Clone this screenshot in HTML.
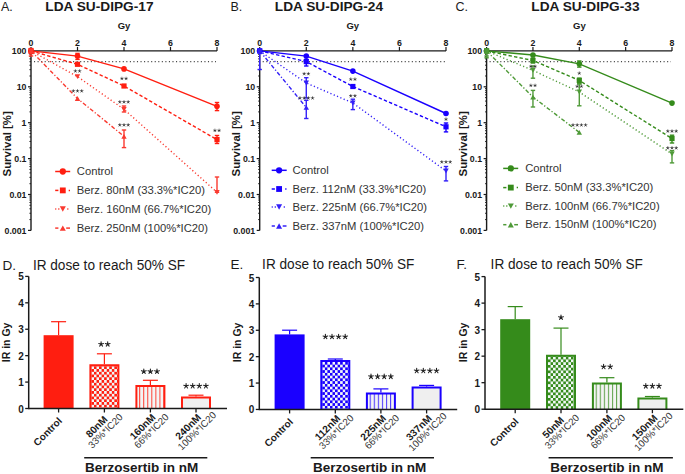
<!DOCTYPE html>
<html><head><meta charset="utf-8"><style>html,body{margin:0;padding:0;background:#fff;}svg{display:block;}</style></head>
<body><svg width="685" height="474" viewBox="0 0 685 474"><defs>
</defs><rect width="685" height="474" fill="#ffffff"/>
<text x="1" y="11.2" font-family="Liberation Sans, sans-serif" font-size="12.5" fill="#1a1a1a">A.</text>
<text x="45.3" y="11.1" font-family="Liberation Sans, sans-serif" font-size="13.7" font-weight="bold" fill="#1a1a1a">LDA SU-DIPG-17</text>
<text x="124" y="28.6" font-family="Liberation Sans, sans-serif" font-size="9.5" font-weight="bold" text-anchor="middle" fill="#1a1a1a">Gy</text>
<line x1="34" y1="61.70697684433692" x2="216" y2="61.70697684433692" stroke="#1a1a1a" stroke-width="1" stroke-dasharray="1.1 2.45"/>
<line x1="31" y1="50.9" x2="217" y2="50.9" stroke="#1a1a1a" stroke-width="1.4"/>
<line x1="31" y1="50.199999999999996" x2="31" y2="230.4" stroke="#1a1a1a" stroke-width="1.4"/>
<line x1="31.0" y1="50.9" x2="31.0" y2="46.9" stroke="#1a1a1a" stroke-width="1.2"/>
<text x="31.0" y="45.8" font-family="Liberation Sans, sans-serif" font-size="8.8" font-weight="bold" text-anchor="middle" fill="#1a1a1a">0</text>
<line x1="77.5" y1="50.9" x2="77.5" y2="46.9" stroke="#1a1a1a" stroke-width="1.2"/>
<text x="77.5" y="45.8" font-family="Liberation Sans, sans-serif" font-size="8.8" font-weight="bold" text-anchor="middle" fill="#1a1a1a">2</text>
<line x1="124.0" y1="50.9" x2="124.0" y2="46.9" stroke="#1a1a1a" stroke-width="1.2"/>
<text x="124.0" y="45.8" font-family="Liberation Sans, sans-serif" font-size="8.8" font-weight="bold" text-anchor="middle" fill="#1a1a1a">4</text>
<line x1="170.5" y1="50.9" x2="170.5" y2="46.9" stroke="#1a1a1a" stroke-width="1.2"/>
<text x="170.5" y="45.8" font-family="Liberation Sans, sans-serif" font-size="8.8" font-weight="bold" text-anchor="middle" fill="#1a1a1a">6</text>
<line x1="217.0" y1="50.9" x2="217.0" y2="46.9" stroke="#1a1a1a" stroke-width="1.2"/>
<text x="217.0" y="45.8" font-family="Liberation Sans, sans-serif" font-size="8.8" font-weight="bold" text-anchor="middle" fill="#1a1a1a">8</text>
<line x1="28" y1="50.9" x2="31" y2="50.9" stroke="#1a1a1a" stroke-width="1.2"/>
<text x="26.5" y="54.0" font-family="Liberation Sans, sans-serif" font-size="8.8" font-weight="bold" text-anchor="end" fill="#1a1a1a">100</text>
<line x1="29.4" y1="75.99" x2="31" y2="75.99" stroke="#1a1a1a" stroke-width="0.9"/>
<line x1="29.4" y1="69.67" x2="31" y2="69.67" stroke="#1a1a1a" stroke-width="0.9"/>
<line x1="29.4" y1="65.19" x2="31" y2="65.19" stroke="#1a1a1a" stroke-width="0.9"/>
<line x1="29.4" y1="61.71" x2="31" y2="61.71" stroke="#1a1a1a" stroke-width="0.9"/>
<line x1="29.4" y1="58.86" x2="31" y2="58.86" stroke="#1a1a1a" stroke-width="0.9"/>
<line x1="29.4" y1="56.46" x2="31" y2="56.46" stroke="#1a1a1a" stroke-width="0.9"/>
<line x1="29.4" y1="54.38" x2="31" y2="54.38" stroke="#1a1a1a" stroke-width="0.9"/>
<line x1="29.4" y1="52.54" x2="31" y2="52.54" stroke="#1a1a1a" stroke-width="0.9"/>
<line x1="28" y1="86.8" x2="31" y2="86.8" stroke="#1a1a1a" stroke-width="1.2"/>
<text x="26.5" y="89.89999999999999" font-family="Liberation Sans, sans-serif" font-size="8.8" font-weight="bold" text-anchor="end" fill="#1a1a1a">10</text>
<line x1="29.4" y1="111.89" x2="31" y2="111.89" stroke="#1a1a1a" stroke-width="0.9"/>
<line x1="29.4" y1="105.57" x2="31" y2="105.57" stroke="#1a1a1a" stroke-width="0.9"/>
<line x1="29.4" y1="101.09" x2="31" y2="101.09" stroke="#1a1a1a" stroke-width="0.9"/>
<line x1="29.4" y1="97.61" x2="31" y2="97.61" stroke="#1a1a1a" stroke-width="0.9"/>
<line x1="29.4" y1="94.76" x2="31" y2="94.76" stroke="#1a1a1a" stroke-width="0.9"/>
<line x1="29.4" y1="92.36" x2="31" y2="92.36" stroke="#1a1a1a" stroke-width="0.9"/>
<line x1="29.4" y1="90.28" x2="31" y2="90.28" stroke="#1a1a1a" stroke-width="0.9"/>
<line x1="29.4" y1="88.44" x2="31" y2="88.44" stroke="#1a1a1a" stroke-width="0.9"/>
<line x1="28" y1="122.69999999999999" x2="31" y2="122.69999999999999" stroke="#1a1a1a" stroke-width="1.2"/>
<text x="26.5" y="125.79999999999998" font-family="Liberation Sans, sans-serif" font-size="8.8" font-weight="bold" text-anchor="end" fill="#1a1a1a">1</text>
<line x1="29.4" y1="147.79" x2="31" y2="147.79" stroke="#1a1a1a" stroke-width="0.9"/>
<line x1="29.4" y1="141.47" x2="31" y2="141.47" stroke="#1a1a1a" stroke-width="0.9"/>
<line x1="29.4" y1="136.99" x2="31" y2="136.99" stroke="#1a1a1a" stroke-width="0.9"/>
<line x1="29.4" y1="133.51" x2="31" y2="133.51" stroke="#1a1a1a" stroke-width="0.9"/>
<line x1="29.4" y1="130.66" x2="31" y2="130.66" stroke="#1a1a1a" stroke-width="0.9"/>
<line x1="29.4" y1="128.26" x2="31" y2="128.26" stroke="#1a1a1a" stroke-width="0.9"/>
<line x1="29.4" y1="126.18" x2="31" y2="126.18" stroke="#1a1a1a" stroke-width="0.9"/>
<line x1="29.4" y1="124.34" x2="31" y2="124.34" stroke="#1a1a1a" stroke-width="0.9"/>
<line x1="28" y1="158.6" x2="31" y2="158.6" stroke="#1a1a1a" stroke-width="1.2"/>
<text x="26.5" y="161.7" font-family="Liberation Sans, sans-serif" font-size="8.8" font-weight="bold" text-anchor="end" fill="#1a1a1a">0.1</text>
<line x1="29.4" y1="183.69" x2="31" y2="183.69" stroke="#1a1a1a" stroke-width="0.9"/>
<line x1="29.4" y1="177.37" x2="31" y2="177.37" stroke="#1a1a1a" stroke-width="0.9"/>
<line x1="29.4" y1="172.89" x2="31" y2="172.89" stroke="#1a1a1a" stroke-width="0.9"/>
<line x1="29.4" y1="169.41" x2="31" y2="169.41" stroke="#1a1a1a" stroke-width="0.9"/>
<line x1="29.4" y1="166.56" x2="31" y2="166.56" stroke="#1a1a1a" stroke-width="0.9"/>
<line x1="29.4" y1="164.16" x2="31" y2="164.16" stroke="#1a1a1a" stroke-width="0.9"/>
<line x1="29.4" y1="162.08" x2="31" y2="162.08" stroke="#1a1a1a" stroke-width="0.9"/>
<line x1="29.4" y1="160.24" x2="31" y2="160.24" stroke="#1a1a1a" stroke-width="0.9"/>
<line x1="28" y1="194.5" x2="31" y2="194.5" stroke="#1a1a1a" stroke-width="1.2"/>
<text x="26.5" y="197.6" font-family="Liberation Sans, sans-serif" font-size="8.8" font-weight="bold" text-anchor="end" fill="#1a1a1a">0.01</text>
<line x1="29.4" y1="219.59" x2="31" y2="219.59" stroke="#1a1a1a" stroke-width="0.9"/>
<line x1="29.4" y1="213.27" x2="31" y2="213.27" stroke="#1a1a1a" stroke-width="0.9"/>
<line x1="29.4" y1="208.79" x2="31" y2="208.79" stroke="#1a1a1a" stroke-width="0.9"/>
<line x1="29.4" y1="205.31" x2="31" y2="205.31" stroke="#1a1a1a" stroke-width="0.9"/>
<line x1="29.4" y1="202.46" x2="31" y2="202.46" stroke="#1a1a1a" stroke-width="0.9"/>
<line x1="29.4" y1="200.06" x2="31" y2="200.06" stroke="#1a1a1a" stroke-width="0.9"/>
<line x1="29.4" y1="197.98" x2="31" y2="197.98" stroke="#1a1a1a" stroke-width="0.9"/>
<line x1="29.4" y1="196.14" x2="31" y2="196.14" stroke="#1a1a1a" stroke-width="0.9"/>
<line x1="28" y1="230.4" x2="31" y2="230.4" stroke="#1a1a1a" stroke-width="1.2"/>
<text x="26.5" y="233.5" font-family="Liberation Sans, sans-serif" font-size="8.8" font-weight="bold" text-anchor="end" fill="#1a1a1a">0.001</text>
<polyline points="31.00,50.90 77.50,56.10 124.00,68.90 217.00,106.30" fill="none" stroke="#ff1e10" stroke-width="1.4" />
<line x1="31.0" y1="48.5" x2="31.0" y2="53.5" stroke="#ff1e10" stroke-width="1.4"/>
<line x1="28.8" y1="48.5" x2="33.2" y2="48.5" stroke="#ff1e10" stroke-width="1.4"/>
<line x1="28.8" y1="53.5" x2="33.2" y2="53.5" stroke="#ff1e10" stroke-width="1.4"/>
<circle cx="31.0" cy="50.9" r="2.8" fill="#ff1e10"/>
<line x1="77.5" y1="53.4" x2="77.5" y2="59.4" stroke="#ff1e10" stroke-width="1.4"/>
<line x1="75.3" y1="53.4" x2="79.7" y2="53.4" stroke="#ff1e10" stroke-width="1.4"/>
<line x1="75.3" y1="59.4" x2="79.7" y2="59.4" stroke="#ff1e10" stroke-width="1.4"/>
<circle cx="77.5" cy="56.1" r="2.8" fill="#ff1e10"/>
<circle cx="124.0" cy="68.9" r="2.8" fill="#ff1e10"/>
<line x1="217.0" y1="102.5" x2="217.0" y2="110.6" stroke="#ff1e10" stroke-width="1.4"/>
<line x1="214.8" y1="102.5" x2="219.2" y2="102.5" stroke="#ff1e10" stroke-width="1.4"/>
<line x1="214.8" y1="110.6" x2="219.2" y2="110.6" stroke="#ff1e10" stroke-width="1.4"/>
<circle cx="217.0" cy="106.3" r="2.8" fill="#ff1e10"/>
<polyline points="31.00,50.90 77.50,64.30 124.00,86.00 217.00,139.60" fill="none" stroke="#ff1e10" stroke-width="1.4" stroke-dasharray="3.4 2.2"/>
<rect x="28.4" y="48.3" width="5.2" height="5.2" fill="#ff1e10"/>
<rect x="74.9" y="61.699999999999996" width="5.2" height="5.2" fill="#ff1e10"/>
<rect x="121.4" y="83.4" width="5.2" height="5.2" fill="#ff1e10"/>
<line x1="217.0" y1="135.5" x2="217.0" y2="143.5" stroke="#ff1e10" stroke-width="1.4"/>
<line x1="214.8" y1="135.5" x2="219.2" y2="135.5" stroke="#ff1e10" stroke-width="1.4"/>
<line x1="214.8" y1="143.5" x2="219.2" y2="143.5" stroke="#ff1e10" stroke-width="1.4"/>
<rect x="214.4" y="137.0" width="5.2" height="5.2" fill="#ff1e10"/>
<polyline points="31.00,50.90 77.50,76.60 124.00,109.30 217.00,192.30" fill="none" stroke="#fa3a30" stroke-width="1.4" stroke-dasharray="1.2 2.4"/>
<polygon points="28.3,48.5 33.7,48.5 31.0,53.3" fill="#fa3a30"/>
<polygon points="74.8,74.19999999999999 80.2,74.19999999999999 77.5,79.0" fill="#fa3a30"/>
<line x1="124.0" y1="106" x2="124.0" y2="112" stroke="#fa3a30" stroke-width="1.4"/>
<line x1="121.8" y1="106" x2="126.2" y2="106" stroke="#fa3a30" stroke-width="1.4"/>
<line x1="121.8" y1="112" x2="126.2" y2="112" stroke="#fa3a30" stroke-width="1.4"/>
<polygon points="121.3,106.89999999999999 126.7,106.89999999999999 124.0,111.7" fill="#fa3a30"/>
<line x1="217.0" y1="177" x2="217.0" y2="192.3" stroke="#fa3a30" stroke-width="1.4"/>
<line x1="214.8" y1="177" x2="219.2" y2="177" stroke="#fa3a30" stroke-width="1.4"/>
<line x1="214.8" y1="192.3" x2="219.2" y2="192.3" stroke="#fa3a30" stroke-width="1.4"/>
<polygon points="214.3,189.9 219.7,189.9 217.0,194.70000000000002" fill="#fa3a30"/>
<polyline points="31.00,50.90 77.50,98.50 124.00,136.30" fill="none" stroke="#fa3a30" stroke-width="1.4" stroke-dasharray="4 2 1.2 2"/>
<line x1="31.0" y1="50.9" x2="31.0" y2="56" stroke="#fa3a30" stroke-width="1.4"/>
<line x1="28.8" y1="50.9" x2="33.2" y2="50.9" stroke="#fa3a30" stroke-width="1.4"/>
<line x1="28.8" y1="56" x2="33.2" y2="56" stroke="#fa3a30" stroke-width="1.4"/>
<polygon points="28.3,53.3 33.7,53.3 31.0,48.5" fill="#fa3a30"/>
<polygon points="74.8,100.9 80.2,100.9 77.5,96.1" fill="#fa3a30"/>
<line x1="124.0" y1="130" x2="124.0" y2="147.6" stroke="#fa3a30" stroke-width="1.4"/>
<line x1="121.8" y1="130" x2="126.2" y2="130" stroke="#fa3a30" stroke-width="1.4"/>
<line x1="121.8" y1="147.6" x2="126.2" y2="147.6" stroke="#fa3a30" stroke-width="1.4"/>
<polygon points="121.3,138.70000000000002 126.7,138.70000000000002 124.0,133.9" fill="#fa3a30"/>
<path d="M75.40,71.10L75.40,69.65M75.40,71.10L76.78,70.65M75.40,71.10L76.25,72.27M75.40,71.10L74.55,72.27M75.40,71.10L74.02,70.65" stroke="#333" stroke-width="0.64" stroke-linecap="round"/><circle cx="75.40" cy="71.10" r="0.58" fill="#333"/><path d="M79.60,71.10L79.60,69.65M79.60,71.10L80.98,70.65M79.60,71.10L80.45,72.27M79.60,71.10L78.75,72.27M79.60,71.10L78.22,70.65" stroke="#333" stroke-width="0.64" stroke-linecap="round"/><circle cx="79.60" cy="71.10" r="0.58" fill="#333"/>
<path d="M73.30,91.00L73.30,89.55M73.30,91.00L74.68,90.55M73.30,91.00L74.15,92.17M73.30,91.00L72.45,92.17M73.30,91.00L71.92,90.55" stroke="#333" stroke-width="0.64" stroke-linecap="round"/><circle cx="73.30" cy="91.00" r="0.58" fill="#333"/><path d="M77.50,91.00L77.50,89.55M77.50,91.00L78.88,90.55M77.50,91.00L78.35,92.17M77.50,91.00L76.65,92.17M77.50,91.00L76.12,90.55" stroke="#333" stroke-width="0.64" stroke-linecap="round"/><circle cx="77.50" cy="91.00" r="0.58" fill="#333"/><path d="M81.70,91.00L81.70,89.55M81.70,91.00L83.08,90.55M81.70,91.00L82.55,92.17M81.70,91.00L80.85,92.17M81.70,91.00L80.32,90.55" stroke="#333" stroke-width="0.64" stroke-linecap="round"/><circle cx="81.70" cy="91.00" r="0.58" fill="#333"/>
<path d="M121.90,78.60L121.90,77.15M121.90,78.60L123.28,78.15M121.90,78.60L122.75,79.77M121.90,78.60L121.05,79.77M121.90,78.60L120.52,78.15" stroke="#333" stroke-width="0.64" stroke-linecap="round"/><circle cx="121.90" cy="78.60" r="0.58" fill="#333"/><path d="M126.10,78.60L126.10,77.15M126.10,78.60L127.48,78.15M126.10,78.60L126.95,79.77M126.10,78.60L125.25,79.77M126.10,78.60L124.72,78.15" stroke="#333" stroke-width="0.64" stroke-linecap="round"/><circle cx="126.10" cy="78.60" r="0.58" fill="#333"/>
<path d="M119.80,102.00L119.80,100.55M119.80,102.00L121.18,101.55M119.80,102.00L120.65,103.17M119.80,102.00L118.95,103.17M119.80,102.00L118.42,101.55" stroke="#333" stroke-width="0.64" stroke-linecap="round"/><circle cx="119.80" cy="102.00" r="0.58" fill="#333"/><path d="M124.00,102.00L124.00,100.55M124.00,102.00L125.38,101.55M124.00,102.00L124.85,103.17M124.00,102.00L123.15,103.17M124.00,102.00L122.62,101.55" stroke="#333" stroke-width="0.64" stroke-linecap="round"/><circle cx="124.00" cy="102.00" r="0.58" fill="#333"/><path d="M128.20,102.00L128.20,100.55M128.20,102.00L129.58,101.55M128.20,102.00L129.05,103.17M128.20,102.00L127.35,103.17M128.20,102.00L126.82,101.55" stroke="#333" stroke-width="0.64" stroke-linecap="round"/><circle cx="128.20" cy="102.00" r="0.58" fill="#333"/>
<path d="M119.80,125.00L119.80,123.55M119.80,125.00L121.18,124.55M119.80,125.00L120.65,126.17M119.80,125.00L118.95,126.17M119.80,125.00L118.42,124.55" stroke="#333" stroke-width="0.64" stroke-linecap="round"/><circle cx="119.80" cy="125.00" r="0.58" fill="#333"/><path d="M124.00,125.00L124.00,123.55M124.00,125.00L125.38,124.55M124.00,125.00L124.85,126.17M124.00,125.00L123.15,126.17M124.00,125.00L122.62,124.55" stroke="#333" stroke-width="0.64" stroke-linecap="round"/><circle cx="124.00" cy="125.00" r="0.58" fill="#333"/><path d="M128.20,125.00L128.20,123.55M128.20,125.00L129.58,124.55M128.20,125.00L129.05,126.17M128.20,125.00L127.35,126.17M128.20,125.00L126.82,124.55" stroke="#333" stroke-width="0.64" stroke-linecap="round"/><circle cx="128.20" cy="125.00" r="0.58" fill="#333"/>
<path d="M214.90,130.50L214.90,129.05M214.90,130.50L216.28,130.05M214.90,130.50L215.75,131.67M214.90,130.50L214.05,131.67M214.90,130.50L213.52,130.05" stroke="#333" stroke-width="0.64" stroke-linecap="round"/><circle cx="214.90" cy="130.50" r="0.58" fill="#333"/><path d="M219.10,130.50L219.10,129.05M219.10,130.50L220.48,130.05M219.10,130.50L219.95,131.67M219.10,130.50L218.25,131.67M219.10,130.50L217.72,130.05" stroke="#333" stroke-width="0.64" stroke-linecap="round"/><circle cx="219.10" cy="130.50" r="0.58" fill="#333"/>
<text transform="translate(11.399999999999999,143.85) rotate(-90)" font-family="Liberation Sans, sans-serif" font-size="11.4" font-weight="bold" text-anchor="middle" fill="#1a1a1a">Survival [%]</text>
<line x1="55.2" y1="171.5" x2="70.2" y2="171.5" stroke="#ff1e10" stroke-width="1.5"/>
<circle cx="62.8" cy="171.5" r="3.136" fill="#ff1e10"/>
<text x="76.8" y="175.0" font-family="Liberation Sans, sans-serif" font-size="11.25" fill="#333333">Control</text>
<line x1="55.2" y1="190.4" x2="58.400000000000006" y2="190.4" stroke="#ff1e10" stroke-width="1.5"/>
<line x1="68.7" y1="190.4" x2="70.0" y2="190.4" stroke="#ff1e10" stroke-width="1.5"/>
<rect x="59.888" y="187.488" width="5.824000000000001" height="5.824000000000001" fill="#ff1e10"/>
<text x="76.8" y="193.9" font-family="Liberation Sans, sans-serif" font-size="11.25" fill="#333333">Berz. 80nM (33.3%*IC20)</text>
<line x1="55.2" y1="209" x2="56.300000000000004" y2="209" stroke="#fa3a30" stroke-width="1.5"/>
<line x1="58.2" y1="209" x2="59.400000000000006" y2="209" stroke="#fa3a30" stroke-width="1.5"/>
<line x1="67.2" y1="209" x2="68.4" y2="209" stroke="#fa3a30" stroke-width="1.5"/>
<polygon points="59.775999999999996,206.312 65.824,206.312 62.8,211.688" fill="#fa3a30"/>
<text x="76.8" y="212.5" font-family="Liberation Sans, sans-serif" font-size="11.25" fill="#333333">Berz. 160nM (66.7%*IC20)</text>
<line x1="55.2" y1="228.1" x2="58.400000000000006" y2="228.1" stroke="#fa3a30" stroke-width="1.5"/>
<line x1="66.2" y1="228.1" x2="70.0" y2="228.1" stroke="#fa3a30" stroke-width="1.5"/>
<polygon points="59.775999999999996,230.78799999999998 65.824,230.78799999999998 62.8,225.412" fill="#fa3a30"/>
<text x="76.8" y="231.6" font-family="Liberation Sans, sans-serif" font-size="11.25" fill="#333333">Berz. 250nM (100%*IC20)</text>
<text x="230.5" y="11.2" font-family="Liberation Sans, sans-serif" font-size="12.5" fill="#1a1a1a">B.</text>
<text x="274.8" y="11.1" font-family="Liberation Sans, sans-serif" font-size="13.7" font-weight="bold" fill="#1a1a1a">LDA SU-DIPG-24</text>
<text x="352.8" y="28.6" font-family="Liberation Sans, sans-serif" font-size="9.5" font-weight="bold" text-anchor="middle" fill="#1a1a1a">Gy</text>
<line x1="262.7" y1="61.70697684433692" x2="445" y2="61.70697684433692" stroke="#1a1a1a" stroke-width="1" stroke-dasharray="1.1 2.45"/>
<line x1="259.7" y1="50.9" x2="446" y2="50.9" stroke="#1a1a1a" stroke-width="1.4"/>
<line x1="259.7" y1="50.199999999999996" x2="259.7" y2="230.4" stroke="#1a1a1a" stroke-width="1.4"/>
<line x1="259.7" y1="50.9" x2="259.7" y2="46.9" stroke="#1a1a1a" stroke-width="1.2"/>
<text x="259.7" y="45.8" font-family="Liberation Sans, sans-serif" font-size="8.8" font-weight="bold" text-anchor="middle" fill="#1a1a1a">0</text>
<line x1="306.275" y1="50.9" x2="306.275" y2="46.9" stroke="#1a1a1a" stroke-width="1.2"/>
<text x="306.275" y="45.8" font-family="Liberation Sans, sans-serif" font-size="8.8" font-weight="bold" text-anchor="middle" fill="#1a1a1a">2</text>
<line x1="352.85" y1="50.9" x2="352.85" y2="46.9" stroke="#1a1a1a" stroke-width="1.2"/>
<text x="352.85" y="45.8" font-family="Liberation Sans, sans-serif" font-size="8.8" font-weight="bold" text-anchor="middle" fill="#1a1a1a">4</text>
<line x1="399.425" y1="50.9" x2="399.425" y2="46.9" stroke="#1a1a1a" stroke-width="1.2"/>
<text x="399.425" y="45.8" font-family="Liberation Sans, sans-serif" font-size="8.8" font-weight="bold" text-anchor="middle" fill="#1a1a1a">6</text>
<line x1="446.0" y1="50.9" x2="446.0" y2="46.9" stroke="#1a1a1a" stroke-width="1.2"/>
<text x="446.0" y="45.8" font-family="Liberation Sans, sans-serif" font-size="8.8" font-weight="bold" text-anchor="middle" fill="#1a1a1a">8</text>
<line x1="256.7" y1="50.9" x2="259.7" y2="50.9" stroke="#1a1a1a" stroke-width="1.2"/>
<text x="255.2" y="54.0" font-family="Liberation Sans, sans-serif" font-size="8.8" font-weight="bold" text-anchor="end" fill="#1a1a1a">100</text>
<line x1="258.09999999999997" y1="75.99" x2="259.7" y2="75.99" stroke="#1a1a1a" stroke-width="0.9"/>
<line x1="258.09999999999997" y1="69.67" x2="259.7" y2="69.67" stroke="#1a1a1a" stroke-width="0.9"/>
<line x1="258.09999999999997" y1="65.19" x2="259.7" y2="65.19" stroke="#1a1a1a" stroke-width="0.9"/>
<line x1="258.09999999999997" y1="61.71" x2="259.7" y2="61.71" stroke="#1a1a1a" stroke-width="0.9"/>
<line x1="258.09999999999997" y1="58.86" x2="259.7" y2="58.86" stroke="#1a1a1a" stroke-width="0.9"/>
<line x1="258.09999999999997" y1="56.46" x2="259.7" y2="56.46" stroke="#1a1a1a" stroke-width="0.9"/>
<line x1="258.09999999999997" y1="54.38" x2="259.7" y2="54.38" stroke="#1a1a1a" stroke-width="0.9"/>
<line x1="258.09999999999997" y1="52.54" x2="259.7" y2="52.54" stroke="#1a1a1a" stroke-width="0.9"/>
<line x1="256.7" y1="86.8" x2="259.7" y2="86.8" stroke="#1a1a1a" stroke-width="1.2"/>
<text x="255.2" y="89.89999999999999" font-family="Liberation Sans, sans-serif" font-size="8.8" font-weight="bold" text-anchor="end" fill="#1a1a1a">10</text>
<line x1="258.09999999999997" y1="111.89" x2="259.7" y2="111.89" stroke="#1a1a1a" stroke-width="0.9"/>
<line x1="258.09999999999997" y1="105.57" x2="259.7" y2="105.57" stroke="#1a1a1a" stroke-width="0.9"/>
<line x1="258.09999999999997" y1="101.09" x2="259.7" y2="101.09" stroke="#1a1a1a" stroke-width="0.9"/>
<line x1="258.09999999999997" y1="97.61" x2="259.7" y2="97.61" stroke="#1a1a1a" stroke-width="0.9"/>
<line x1="258.09999999999997" y1="94.76" x2="259.7" y2="94.76" stroke="#1a1a1a" stroke-width="0.9"/>
<line x1="258.09999999999997" y1="92.36" x2="259.7" y2="92.36" stroke="#1a1a1a" stroke-width="0.9"/>
<line x1="258.09999999999997" y1="90.28" x2="259.7" y2="90.28" stroke="#1a1a1a" stroke-width="0.9"/>
<line x1="258.09999999999997" y1="88.44" x2="259.7" y2="88.44" stroke="#1a1a1a" stroke-width="0.9"/>
<line x1="256.7" y1="122.69999999999999" x2="259.7" y2="122.69999999999999" stroke="#1a1a1a" stroke-width="1.2"/>
<text x="255.2" y="125.79999999999998" font-family="Liberation Sans, sans-serif" font-size="8.8" font-weight="bold" text-anchor="end" fill="#1a1a1a">1</text>
<line x1="258.09999999999997" y1="147.79" x2="259.7" y2="147.79" stroke="#1a1a1a" stroke-width="0.9"/>
<line x1="258.09999999999997" y1="141.47" x2="259.7" y2="141.47" stroke="#1a1a1a" stroke-width="0.9"/>
<line x1="258.09999999999997" y1="136.99" x2="259.7" y2="136.99" stroke="#1a1a1a" stroke-width="0.9"/>
<line x1="258.09999999999997" y1="133.51" x2="259.7" y2="133.51" stroke="#1a1a1a" stroke-width="0.9"/>
<line x1="258.09999999999997" y1="130.66" x2="259.7" y2="130.66" stroke="#1a1a1a" stroke-width="0.9"/>
<line x1="258.09999999999997" y1="128.26" x2="259.7" y2="128.26" stroke="#1a1a1a" stroke-width="0.9"/>
<line x1="258.09999999999997" y1="126.18" x2="259.7" y2="126.18" stroke="#1a1a1a" stroke-width="0.9"/>
<line x1="258.09999999999997" y1="124.34" x2="259.7" y2="124.34" stroke="#1a1a1a" stroke-width="0.9"/>
<line x1="256.7" y1="158.6" x2="259.7" y2="158.6" stroke="#1a1a1a" stroke-width="1.2"/>
<text x="255.2" y="161.7" font-family="Liberation Sans, sans-serif" font-size="8.8" font-weight="bold" text-anchor="end" fill="#1a1a1a">0.1</text>
<line x1="258.09999999999997" y1="183.69" x2="259.7" y2="183.69" stroke="#1a1a1a" stroke-width="0.9"/>
<line x1="258.09999999999997" y1="177.37" x2="259.7" y2="177.37" stroke="#1a1a1a" stroke-width="0.9"/>
<line x1="258.09999999999997" y1="172.89" x2="259.7" y2="172.89" stroke="#1a1a1a" stroke-width="0.9"/>
<line x1="258.09999999999997" y1="169.41" x2="259.7" y2="169.41" stroke="#1a1a1a" stroke-width="0.9"/>
<line x1="258.09999999999997" y1="166.56" x2="259.7" y2="166.56" stroke="#1a1a1a" stroke-width="0.9"/>
<line x1="258.09999999999997" y1="164.16" x2="259.7" y2="164.16" stroke="#1a1a1a" stroke-width="0.9"/>
<line x1="258.09999999999997" y1="162.08" x2="259.7" y2="162.08" stroke="#1a1a1a" stroke-width="0.9"/>
<line x1="258.09999999999997" y1="160.24" x2="259.7" y2="160.24" stroke="#1a1a1a" stroke-width="0.9"/>
<line x1="256.7" y1="194.5" x2="259.7" y2="194.5" stroke="#1a1a1a" stroke-width="1.2"/>
<text x="255.2" y="197.6" font-family="Liberation Sans, sans-serif" font-size="8.8" font-weight="bold" text-anchor="end" fill="#1a1a1a">0.01</text>
<line x1="258.09999999999997" y1="219.59" x2="259.7" y2="219.59" stroke="#1a1a1a" stroke-width="0.9"/>
<line x1="258.09999999999997" y1="213.27" x2="259.7" y2="213.27" stroke="#1a1a1a" stroke-width="0.9"/>
<line x1="258.09999999999997" y1="208.79" x2="259.7" y2="208.79" stroke="#1a1a1a" stroke-width="0.9"/>
<line x1="258.09999999999997" y1="205.31" x2="259.7" y2="205.31" stroke="#1a1a1a" stroke-width="0.9"/>
<line x1="258.09999999999997" y1="202.46" x2="259.7" y2="202.46" stroke="#1a1a1a" stroke-width="0.9"/>
<line x1="258.09999999999997" y1="200.06" x2="259.7" y2="200.06" stroke="#1a1a1a" stroke-width="0.9"/>
<line x1="258.09999999999997" y1="197.98" x2="259.7" y2="197.98" stroke="#1a1a1a" stroke-width="0.9"/>
<line x1="258.09999999999997" y1="196.14" x2="259.7" y2="196.14" stroke="#1a1a1a" stroke-width="0.9"/>
<line x1="256.7" y1="230.4" x2="259.7" y2="230.4" stroke="#1a1a1a" stroke-width="1.2"/>
<text x="255.2" y="233.5" font-family="Liberation Sans, sans-serif" font-size="8.8" font-weight="bold" text-anchor="end" fill="#1a1a1a">0.001</text>
<polyline points="259.70,50.90 306.27,56.10 352.85,71.10 446.00,113.50" fill="none" stroke="#1a00ff" stroke-width="1.4" />
<circle cx="259.7" cy="50.9" r="2.8" fill="#1a00ff"/>
<circle cx="306.275" cy="56.1" r="2.8" fill="#1a00ff"/>
<circle cx="352.85" cy="71.1" r="2.8" fill="#1a00ff"/>
<circle cx="446.0" cy="113.5" r="2.8" fill="#1a00ff"/>
<polyline points="259.70,50.90 306.27,61.60 352.85,86.50 446.00,126.80" fill="none" stroke="#1a00ff" stroke-width="1.4" stroke-dasharray="3.4 2.2"/>
<rect x="257.09999999999997" y="48.3" width="5.2" height="5.2" fill="#1a00ff"/>
<line x1="306.275" y1="59.4" x2="306.275" y2="66" stroke="#1a00ff" stroke-width="1.4"/>
<line x1="304.075" y1="59.4" x2="308.47499999999997" y2="59.4" stroke="#1a00ff" stroke-width="1.4"/>
<line x1="304.075" y1="66" x2="308.47499999999997" y2="66" stroke="#1a00ff" stroke-width="1.4"/>
<rect x="303.67499999999995" y="59.0" width="5.2" height="5.2" fill="#1a00ff"/>
<rect x="350.25" y="83.9" width="5.2" height="5.2" fill="#1a00ff"/>
<line x1="446.0" y1="123" x2="446.0" y2="131.9" stroke="#1a00ff" stroke-width="1.4"/>
<line x1="443.8" y1="123" x2="448.2" y2="123" stroke="#1a00ff" stroke-width="1.4"/>
<line x1="443.8" y1="131.9" x2="448.2" y2="131.9" stroke="#1a00ff" stroke-width="1.4"/>
<rect x="443.4" y="124.2" width="5.2" height="5.2" fill="#1a00ff"/>
<polyline points="259.70,50.90 306.27,83.00 352.85,103.00 446.00,171.00" fill="none" stroke="#3320f8" stroke-width="1.4" stroke-dasharray="1.2 2.4"/>
<polygon points="257.0,48.5 262.4,48.5 259.7,53.3" fill="#3320f8"/>
<line x1="306.275" y1="77.7" x2="306.275" y2="98" stroke="#3320f8" stroke-width="1.4"/>
<line x1="304.075" y1="77.7" x2="308.47499999999997" y2="77.7" stroke="#3320f8" stroke-width="1.4"/>
<line x1="304.075" y1="98" x2="308.47499999999997" y2="98" stroke="#3320f8" stroke-width="1.4"/>
<polygon points="303.575,80.6 308.97499999999997,80.6 306.275,85.4" fill="#3320f8"/>
<line x1="352.85" y1="99.2" x2="352.85" y2="109.6" stroke="#3320f8" stroke-width="1.4"/>
<line x1="350.65000000000003" y1="99.2" x2="355.05" y2="99.2" stroke="#3320f8" stroke-width="1.4"/>
<line x1="350.65000000000003" y1="109.6" x2="355.05" y2="109.6" stroke="#3320f8" stroke-width="1.4"/>
<polygon points="350.15000000000003,100.6 355.55,100.6 352.85,105.4" fill="#3320f8"/>
<line x1="446.0" y1="166.5" x2="446.0" y2="180.9" stroke="#3320f8" stroke-width="1.4"/>
<line x1="443.8" y1="166.5" x2="448.2" y2="166.5" stroke="#3320f8" stroke-width="1.4"/>
<line x1="443.8" y1="180.9" x2="448.2" y2="180.9" stroke="#3320f8" stroke-width="1.4"/>
<polygon points="443.3,168.6 448.7,168.6 446.0,173.4" fill="#3320f8"/>
<polyline points="259.70,50.90 306.27,107.40" fill="none" stroke="#3320f8" stroke-width="1.4" stroke-dasharray="4 2 1.2 2"/>
<line x1="259.7" y1="50.9" x2="259.7" y2="69.5" stroke="#3320f8" stroke-width="1.4"/>
<line x1="257.5" y1="50.9" x2="261.9" y2="50.9" stroke="#3320f8" stroke-width="1.4"/>
<line x1="257.5" y1="69.5" x2="261.9" y2="69.5" stroke="#3320f8" stroke-width="1.4"/>
<polygon points="257.0,53.3 262.4,53.3 259.7,48.5" fill="#3320f8"/>
<line x1="306.275" y1="100.3" x2="306.275" y2="118.5" stroke="#3320f8" stroke-width="1.4"/>
<line x1="304.075" y1="100.3" x2="308.47499999999997" y2="100.3" stroke="#3320f8" stroke-width="1.4"/>
<line x1="304.075" y1="118.5" x2="308.47499999999997" y2="118.5" stroke="#3320f8" stroke-width="1.4"/>
<polygon points="303.575,109.80000000000001 308.97499999999997,109.80000000000001 306.275,105.0" fill="#3320f8"/>
<path d="M304.17,73.80L304.17,72.35M304.17,73.80L305.55,73.35M304.17,73.80L305.03,74.97M304.17,73.80L303.32,74.97M304.17,73.80L302.80,73.35" stroke="#333" stroke-width="0.64" stroke-linecap="round"/><circle cx="304.17" cy="73.80" r="0.58" fill="#333"/><path d="M308.37,73.80L308.37,72.35M308.37,73.80L309.75,73.35M308.37,73.80L309.23,74.97M308.37,73.80L307.52,74.97M308.37,73.80L307.00,73.35" stroke="#333" stroke-width="0.64" stroke-linecap="round"/><circle cx="308.37" cy="73.80" r="0.58" fill="#333"/>
<path d="M299.97,98.10L299.97,96.65M299.97,98.10L301.35,97.65M299.97,98.10L300.83,99.27M299.97,98.10L299.12,99.27M299.97,98.10L298.60,97.65" stroke="#333" stroke-width="0.64" stroke-linecap="round"/><circle cx="299.97" cy="98.10" r="0.58" fill="#333"/><path d="M304.17,98.10L304.17,96.65M304.17,98.10L305.55,97.65M304.17,98.10L305.03,99.27M304.17,98.10L303.32,99.27M304.17,98.10L302.80,97.65" stroke="#333" stroke-width="0.64" stroke-linecap="round"/><circle cx="304.17" cy="98.10" r="0.58" fill="#333"/><path d="M308.37,98.10L308.37,96.65M308.37,98.10L309.75,97.65M308.37,98.10L309.23,99.27M308.37,98.10L307.52,99.27M308.37,98.10L307.00,97.65" stroke="#333" stroke-width="0.64" stroke-linecap="round"/><circle cx="308.37" cy="98.10" r="0.58" fill="#333"/><path d="M312.57,98.10L312.57,96.65M312.57,98.10L313.95,97.65M312.57,98.10L313.43,99.27M312.57,98.10L311.72,99.27M312.57,98.10L311.20,97.65" stroke="#333" stroke-width="0.64" stroke-linecap="round"/><circle cx="312.57" cy="98.10" r="0.58" fill="#333"/>
<path d="M350.75,79.30L350.75,77.85M350.75,79.30L352.13,78.85M350.75,79.30L351.60,80.47M350.75,79.30L349.90,80.47M350.75,79.30L349.37,78.85" stroke="#333" stroke-width="0.64" stroke-linecap="round"/><circle cx="350.75" cy="79.30" r="0.58" fill="#333"/><path d="M354.95,79.30L354.95,77.85M354.95,79.30L356.33,78.85M354.95,79.30L355.80,80.47M354.95,79.30L354.10,80.47M354.95,79.30L353.57,78.85" stroke="#333" stroke-width="0.64" stroke-linecap="round"/><circle cx="354.95" cy="79.30" r="0.58" fill="#333"/>
<path d="M350.75,95.90L350.75,94.45M350.75,95.90L352.13,95.45M350.75,95.90L351.60,97.07M350.75,95.90L349.90,97.07M350.75,95.90L349.37,95.45" stroke="#333" stroke-width="0.64" stroke-linecap="round"/><circle cx="350.75" cy="95.90" r="0.58" fill="#333"/><path d="M354.95,95.90L354.95,94.45M354.95,95.90L356.33,95.45M354.95,95.90L355.80,97.07M354.95,95.90L354.10,97.07M354.95,95.90L353.57,95.45" stroke="#333" stroke-width="0.64" stroke-linecap="round"/><circle cx="354.95" cy="95.90" r="0.58" fill="#333"/>
<path d="M446.00,119.30L446.00,117.85M446.00,119.30L447.38,118.85M446.00,119.30L446.85,120.47M446.00,119.30L445.15,120.47M446.00,119.30L444.62,118.85" stroke="#333" stroke-width="0.64" stroke-linecap="round"/><circle cx="446.00" cy="119.30" r="0.58" fill="#333"/>
<path d="M441.80,162.00L441.80,160.55M441.80,162.00L443.18,161.55M441.80,162.00L442.65,163.17M441.80,162.00L440.95,163.17M441.80,162.00L440.42,161.55" stroke="#333" stroke-width="0.64" stroke-linecap="round"/><circle cx="441.80" cy="162.00" r="0.58" fill="#333"/><path d="M446.00,162.00L446.00,160.55M446.00,162.00L447.38,161.55M446.00,162.00L446.85,163.17M446.00,162.00L445.15,163.17M446.00,162.00L444.62,161.55" stroke="#333" stroke-width="0.64" stroke-linecap="round"/><circle cx="446.00" cy="162.00" r="0.58" fill="#333"/><path d="M450.20,162.00L450.20,160.55M450.20,162.00L451.58,161.55M450.20,162.00L451.05,163.17M450.20,162.00L449.35,163.17M450.20,162.00L448.82,161.55" stroke="#333" stroke-width="0.64" stroke-linecap="round"/><circle cx="450.20" cy="162.00" r="0.58" fill="#333"/>
<text transform="translate(240.1,143.85) rotate(-90)" font-family="Liberation Sans, sans-serif" font-size="11.4" font-weight="bold" text-anchor="middle" fill="#1a1a1a">Survival [%]</text>
<line x1="271.7" y1="170.3" x2="286.7" y2="170.3" stroke="#1a00ff" stroke-width="1.5"/>
<circle cx="279.1" cy="170.3" r="3.136" fill="#1a00ff"/>
<text x="292.6" y="173.8" font-family="Liberation Sans, sans-serif" font-size="11.25" fill="#333333">Control</text>
<line x1="271.7" y1="189" x2="274.9" y2="189" stroke="#1a00ff" stroke-width="1.5"/>
<line x1="285.2" y1="189" x2="286.5" y2="189" stroke="#1a00ff" stroke-width="1.5"/>
<rect x="276.18800000000005" y="186.088" width="5.824000000000001" height="5.824000000000001" fill="#1a00ff"/>
<text x="292.6" y="192.5" font-family="Liberation Sans, sans-serif" font-size="11.25" fill="#333333">Berz. 112nM (33.3%*IC20)</text>
<line x1="271.7" y1="207" x2="272.8" y2="207" stroke="#3320f8" stroke-width="1.5"/>
<line x1="274.7" y1="207" x2="275.9" y2="207" stroke="#3320f8" stroke-width="1.5"/>
<line x1="283.7" y1="207" x2="284.9" y2="207" stroke="#3320f8" stroke-width="1.5"/>
<polygon points="276.076,204.312 282.124,204.312 279.1,209.688" fill="#3320f8"/>
<text x="292.6" y="210.5" font-family="Liberation Sans, sans-serif" font-size="11.25" fill="#333333">Berz. 225nM (66.7%*IC20)</text>
<line x1="271.7" y1="226" x2="274.9" y2="226" stroke="#3320f8" stroke-width="1.5"/>
<line x1="282.7" y1="226" x2="286.5" y2="226" stroke="#3320f8" stroke-width="1.5"/>
<polygon points="276.076,228.688 282.124,228.688 279.1,223.312" fill="#3320f8"/>
<text x="292.6" y="229.5" font-family="Liberation Sans, sans-serif" font-size="11.25" fill="#333333">Berz. 337nM (100%*IC20)</text>
<text x="455.5" y="11.2" font-family="Liberation Sans, sans-serif" font-size="12.5" fill="#1a1a1a">C.</text>
<text x="531.3" y="11.1" font-family="Liberation Sans, sans-serif" font-size="13.7" font-weight="bold" fill="#1a1a1a">LDA SU-DIPG-33</text>
<text x="579.4" y="28.6" font-family="Liberation Sans, sans-serif" font-size="9.5" font-weight="bold" text-anchor="middle" fill="#1a1a1a">Gy</text>
<line x1="489.6" y1="61.70697684433692" x2="671" y2="61.70697684433692" stroke="#1a1a1a" stroke-width="1" stroke-dasharray="1.1 2.45"/>
<line x1="486.6" y1="50.9" x2="672" y2="50.9" stroke="#1a1a1a" stroke-width="1.4"/>
<line x1="486.6" y1="50.199999999999996" x2="486.6" y2="230.4" stroke="#1a1a1a" stroke-width="1.4"/>
<line x1="486.6" y1="50.9" x2="486.6" y2="46.9" stroke="#1a1a1a" stroke-width="1.2"/>
<text x="486.6" y="45.8" font-family="Liberation Sans, sans-serif" font-size="8.8" font-weight="bold" text-anchor="middle" fill="#1a1a1a">0</text>
<line x1="532.95" y1="50.9" x2="532.95" y2="46.9" stroke="#1a1a1a" stroke-width="1.2"/>
<text x="532.95" y="45.8" font-family="Liberation Sans, sans-serif" font-size="8.8" font-weight="bold" text-anchor="middle" fill="#1a1a1a">2</text>
<line x1="579.3" y1="50.9" x2="579.3" y2="46.9" stroke="#1a1a1a" stroke-width="1.2"/>
<text x="579.3" y="45.8" font-family="Liberation Sans, sans-serif" font-size="8.8" font-weight="bold" text-anchor="middle" fill="#1a1a1a">4</text>
<line x1="625.65" y1="50.9" x2="625.65" y2="46.9" stroke="#1a1a1a" stroke-width="1.2"/>
<text x="625.65" y="45.8" font-family="Liberation Sans, sans-serif" font-size="8.8" font-weight="bold" text-anchor="middle" fill="#1a1a1a">6</text>
<line x1="672.0" y1="50.9" x2="672.0" y2="46.9" stroke="#1a1a1a" stroke-width="1.2"/>
<text x="672.0" y="45.8" font-family="Liberation Sans, sans-serif" font-size="8.8" font-weight="bold" text-anchor="middle" fill="#1a1a1a">8</text>
<line x1="483.6" y1="50.9" x2="486.6" y2="50.9" stroke="#1a1a1a" stroke-width="1.2"/>
<text x="482.1" y="54.0" font-family="Liberation Sans, sans-serif" font-size="8.8" font-weight="bold" text-anchor="end" fill="#1a1a1a">100</text>
<line x1="485.0" y1="75.99" x2="486.6" y2="75.99" stroke="#1a1a1a" stroke-width="0.9"/>
<line x1="485.0" y1="69.67" x2="486.6" y2="69.67" stroke="#1a1a1a" stroke-width="0.9"/>
<line x1="485.0" y1="65.19" x2="486.6" y2="65.19" stroke="#1a1a1a" stroke-width="0.9"/>
<line x1="485.0" y1="61.71" x2="486.6" y2="61.71" stroke="#1a1a1a" stroke-width="0.9"/>
<line x1="485.0" y1="58.86" x2="486.6" y2="58.86" stroke="#1a1a1a" stroke-width="0.9"/>
<line x1="485.0" y1="56.46" x2="486.6" y2="56.46" stroke="#1a1a1a" stroke-width="0.9"/>
<line x1="485.0" y1="54.38" x2="486.6" y2="54.38" stroke="#1a1a1a" stroke-width="0.9"/>
<line x1="485.0" y1="52.54" x2="486.6" y2="52.54" stroke="#1a1a1a" stroke-width="0.9"/>
<line x1="483.6" y1="86.8" x2="486.6" y2="86.8" stroke="#1a1a1a" stroke-width="1.2"/>
<text x="482.1" y="89.89999999999999" font-family="Liberation Sans, sans-serif" font-size="8.8" font-weight="bold" text-anchor="end" fill="#1a1a1a">10</text>
<line x1="485.0" y1="111.89" x2="486.6" y2="111.89" stroke="#1a1a1a" stroke-width="0.9"/>
<line x1="485.0" y1="105.57" x2="486.6" y2="105.57" stroke="#1a1a1a" stroke-width="0.9"/>
<line x1="485.0" y1="101.09" x2="486.6" y2="101.09" stroke="#1a1a1a" stroke-width="0.9"/>
<line x1="485.0" y1="97.61" x2="486.6" y2="97.61" stroke="#1a1a1a" stroke-width="0.9"/>
<line x1="485.0" y1="94.76" x2="486.6" y2="94.76" stroke="#1a1a1a" stroke-width="0.9"/>
<line x1="485.0" y1="92.36" x2="486.6" y2="92.36" stroke="#1a1a1a" stroke-width="0.9"/>
<line x1="485.0" y1="90.28" x2="486.6" y2="90.28" stroke="#1a1a1a" stroke-width="0.9"/>
<line x1="485.0" y1="88.44" x2="486.6" y2="88.44" stroke="#1a1a1a" stroke-width="0.9"/>
<line x1="483.6" y1="122.69999999999999" x2="486.6" y2="122.69999999999999" stroke="#1a1a1a" stroke-width="1.2"/>
<text x="482.1" y="125.79999999999998" font-family="Liberation Sans, sans-serif" font-size="8.8" font-weight="bold" text-anchor="end" fill="#1a1a1a">1</text>
<line x1="485.0" y1="147.79" x2="486.6" y2="147.79" stroke="#1a1a1a" stroke-width="0.9"/>
<line x1="485.0" y1="141.47" x2="486.6" y2="141.47" stroke="#1a1a1a" stroke-width="0.9"/>
<line x1="485.0" y1="136.99" x2="486.6" y2="136.99" stroke="#1a1a1a" stroke-width="0.9"/>
<line x1="485.0" y1="133.51" x2="486.6" y2="133.51" stroke="#1a1a1a" stroke-width="0.9"/>
<line x1="485.0" y1="130.66" x2="486.6" y2="130.66" stroke="#1a1a1a" stroke-width="0.9"/>
<line x1="485.0" y1="128.26" x2="486.6" y2="128.26" stroke="#1a1a1a" stroke-width="0.9"/>
<line x1="485.0" y1="126.18" x2="486.6" y2="126.18" stroke="#1a1a1a" stroke-width="0.9"/>
<line x1="485.0" y1="124.34" x2="486.6" y2="124.34" stroke="#1a1a1a" stroke-width="0.9"/>
<line x1="483.6" y1="158.6" x2="486.6" y2="158.6" stroke="#1a1a1a" stroke-width="1.2"/>
<text x="482.1" y="161.7" font-family="Liberation Sans, sans-serif" font-size="8.8" font-weight="bold" text-anchor="end" fill="#1a1a1a">0.1</text>
<line x1="485.0" y1="183.69" x2="486.6" y2="183.69" stroke="#1a1a1a" stroke-width="0.9"/>
<line x1="485.0" y1="177.37" x2="486.6" y2="177.37" stroke="#1a1a1a" stroke-width="0.9"/>
<line x1="485.0" y1="172.89" x2="486.6" y2="172.89" stroke="#1a1a1a" stroke-width="0.9"/>
<line x1="485.0" y1="169.41" x2="486.6" y2="169.41" stroke="#1a1a1a" stroke-width="0.9"/>
<line x1="485.0" y1="166.56" x2="486.6" y2="166.56" stroke="#1a1a1a" stroke-width="0.9"/>
<line x1="485.0" y1="164.16" x2="486.6" y2="164.16" stroke="#1a1a1a" stroke-width="0.9"/>
<line x1="485.0" y1="162.08" x2="486.6" y2="162.08" stroke="#1a1a1a" stroke-width="0.9"/>
<line x1="485.0" y1="160.24" x2="486.6" y2="160.24" stroke="#1a1a1a" stroke-width="0.9"/>
<line x1="483.6" y1="194.5" x2="486.6" y2="194.5" stroke="#1a1a1a" stroke-width="1.2"/>
<text x="482.1" y="197.6" font-family="Liberation Sans, sans-serif" font-size="8.8" font-weight="bold" text-anchor="end" fill="#1a1a1a">0.01</text>
<line x1="485.0" y1="219.59" x2="486.6" y2="219.59" stroke="#1a1a1a" stroke-width="0.9"/>
<line x1="485.0" y1="213.27" x2="486.6" y2="213.27" stroke="#1a1a1a" stroke-width="0.9"/>
<line x1="485.0" y1="208.79" x2="486.6" y2="208.79" stroke="#1a1a1a" stroke-width="0.9"/>
<line x1="485.0" y1="205.31" x2="486.6" y2="205.31" stroke="#1a1a1a" stroke-width="0.9"/>
<line x1="485.0" y1="202.46" x2="486.6" y2="202.46" stroke="#1a1a1a" stroke-width="0.9"/>
<line x1="485.0" y1="200.06" x2="486.6" y2="200.06" stroke="#1a1a1a" stroke-width="0.9"/>
<line x1="485.0" y1="197.98" x2="486.6" y2="197.98" stroke="#1a1a1a" stroke-width="0.9"/>
<line x1="485.0" y1="196.14" x2="486.6" y2="196.14" stroke="#1a1a1a" stroke-width="0.9"/>
<line x1="483.6" y1="230.4" x2="486.6" y2="230.4" stroke="#1a1a1a" stroke-width="1.2"/>
<text x="482.1" y="233.5" font-family="Liberation Sans, sans-serif" font-size="8.8" font-weight="bold" text-anchor="end" fill="#1a1a1a">0.001</text>
<polyline points="486.60,50.90 532.95,55.00 579.30,63.80 672.00,103.10" fill="none" stroke="#358b1b" stroke-width="1.4" />
<circle cx="486.6" cy="50.9" r="2.8" fill="#358b1b"/>
<circle cx="532.95" cy="55" r="2.8" fill="#358b1b"/>
<line x1="579.3" y1="61" x2="579.3" y2="67.1" stroke="#358b1b" stroke-width="1.4"/>
<line x1="577.0999999999999" y1="61" x2="581.5" y2="61" stroke="#358b1b" stroke-width="1.4"/>
<line x1="577.0999999999999" y1="67.1" x2="581.5" y2="67.1" stroke="#358b1b" stroke-width="1.4"/>
<circle cx="579.3" cy="63.8" r="2.8" fill="#358b1b"/>
<circle cx="672.0" cy="103.1" r="2.8" fill="#358b1b"/>
<polyline points="486.60,50.90 532.95,60.50 579.30,80.40 672.00,138.50" fill="none" stroke="#358b1b" stroke-width="1.4" stroke-dasharray="3.4 2.2"/>
<rect x="484.0" y="48.3" width="5.2" height="5.2" fill="#358b1b"/>
<line x1="532.95" y1="58" x2="532.95" y2="63" stroke="#358b1b" stroke-width="1.4"/>
<line x1="530.75" y1="58" x2="535.1500000000001" y2="58" stroke="#358b1b" stroke-width="1.4"/>
<line x1="530.75" y1="63" x2="535.1500000000001" y2="63" stroke="#358b1b" stroke-width="1.4"/>
<rect x="530.35" y="57.9" width="5.2" height="5.2" fill="#358b1b"/>
<line x1="579.3" y1="78.2" x2="579.3" y2="83.7" stroke="#358b1b" stroke-width="1.4"/>
<line x1="577.0999999999999" y1="78.2" x2="581.5" y2="78.2" stroke="#358b1b" stroke-width="1.4"/>
<line x1="577.0999999999999" y1="83.7" x2="581.5" y2="83.7" stroke="#358b1b" stroke-width="1.4"/>
<rect x="576.6999999999999" y="77.80000000000001" width="5.2" height="5.2" fill="#358b1b"/>
<line x1="672.0" y1="135.2" x2="672.0" y2="143" stroke="#358b1b" stroke-width="1.4"/>
<line x1="669.8" y1="135.2" x2="674.2" y2="135.2" stroke="#358b1b" stroke-width="1.4"/>
<line x1="669.8" y1="143" x2="674.2" y2="143" stroke="#358b1b" stroke-width="1.4"/>
<rect x="669.4" y="135.9" width="5.2" height="5.2" fill="#358b1b"/>
<polyline points="486.60,50.90 532.95,70.40 579.30,92.00 672.00,154.00" fill="none" stroke="#4f9a38" stroke-width="1.4" stroke-dasharray="1.2 2.4"/>
<line x1="486.6" y1="50.9" x2="486.6" y2="56" stroke="#4f9a38" stroke-width="1.4"/>
<line x1="484.40000000000003" y1="50.9" x2="488.8" y2="50.9" stroke="#4f9a38" stroke-width="1.4"/>
<line x1="484.40000000000003" y1="56" x2="488.8" y2="56" stroke="#4f9a38" stroke-width="1.4"/>
<polygon points="483.90000000000003,48.5 489.3,48.5 486.6,53.3" fill="#4f9a38"/>
<line x1="532.95" y1="66" x2="532.95" y2="78.2" stroke="#4f9a38" stroke-width="1.4"/>
<line x1="530.75" y1="66" x2="535.1500000000001" y2="66" stroke="#4f9a38" stroke-width="1.4"/>
<line x1="530.75" y1="78.2" x2="535.1500000000001" y2="78.2" stroke="#4f9a38" stroke-width="1.4"/>
<polygon points="530.25,68.0 535.6500000000001,68.0 532.95,72.80000000000001" fill="#4f9a38"/>
<line x1="579.3" y1="84" x2="579.3" y2="105.8" stroke="#4f9a38" stroke-width="1.4"/>
<line x1="577.0999999999999" y1="84" x2="581.5" y2="84" stroke="#4f9a38" stroke-width="1.4"/>
<line x1="577.0999999999999" y1="105.8" x2="581.5" y2="105.8" stroke="#4f9a38" stroke-width="1.4"/>
<polygon points="576.5999999999999,89.6 582.0,89.6 579.3,94.4" fill="#4f9a38"/>
<line x1="672.0" y1="150.7" x2="672.0" y2="162.9" stroke="#4f9a38" stroke-width="1.4"/>
<line x1="669.8" y1="150.7" x2="674.2" y2="150.7" stroke="#4f9a38" stroke-width="1.4"/>
<line x1="669.8" y1="162.9" x2="674.2" y2="162.9" stroke="#4f9a38" stroke-width="1.4"/>
<polygon points="669.3,151.6 674.7,151.6 672.0,156.4" fill="#4f9a38"/>
<polyline points="486.60,50.90 532.95,97.00 579.30,132.40" fill="none" stroke="#4f9a38" stroke-width="1.4" stroke-dasharray="4 2 1.2 2"/>
<line x1="486.6" y1="50.9" x2="486.6" y2="57.8" stroke="#4f9a38" stroke-width="1.4"/>
<line x1="484.40000000000003" y1="50.9" x2="488.8" y2="50.9" stroke="#4f9a38" stroke-width="1.4"/>
<line x1="484.40000000000003" y1="57.8" x2="488.8" y2="57.8" stroke="#4f9a38" stroke-width="1.4"/>
<polygon points="483.90000000000003,53.3 489.3,53.3 486.6,48.5" fill="#4f9a38"/>
<line x1="532.95" y1="90.4" x2="532.95" y2="107" stroke="#4f9a38" stroke-width="1.4"/>
<line x1="530.75" y1="90.4" x2="535.1500000000001" y2="90.4" stroke="#4f9a38" stroke-width="1.4"/>
<line x1="530.75" y1="107" x2="535.1500000000001" y2="107" stroke="#4f9a38" stroke-width="1.4"/>
<polygon points="530.25,99.4 535.6500000000001,99.4 532.95,94.6" fill="#4f9a38"/>
<polygon points="576.5999999999999,134.8 582.0,134.8 579.3,130.0" fill="#4f9a38"/>
<path d="M530.85,66.50L530.85,65.05M530.85,66.50L532.23,66.05M530.85,66.50L531.70,67.67M530.85,66.50L530.00,67.67M530.85,66.50L529.47,66.05" stroke="#333" stroke-width="0.64" stroke-linecap="round"/><circle cx="530.85" cy="66.50" r="0.58" fill="#333"/><path d="M535.05,66.50L535.05,65.05M535.05,66.50L536.43,66.05M535.05,66.50L535.90,67.67M535.05,66.50L534.20,67.67M535.05,66.50L533.67,66.05" stroke="#333" stroke-width="0.64" stroke-linecap="round"/><circle cx="535.05" cy="66.50" r="0.58" fill="#333"/>
<path d="M530.85,85.50L530.85,84.05M530.85,85.50L532.23,85.05M530.85,85.50L531.70,86.67M530.85,85.50L530.00,86.67M530.85,85.50L529.47,85.05" stroke="#333" stroke-width="0.64" stroke-linecap="round"/><circle cx="530.85" cy="85.50" r="0.58" fill="#333"/><path d="M535.05,85.50L535.05,84.05M535.05,85.50L536.43,85.05M535.05,85.50L535.90,86.67M535.05,85.50L534.20,86.67M535.05,85.50L533.67,85.05" stroke="#333" stroke-width="0.64" stroke-linecap="round"/><circle cx="535.05" cy="85.50" r="0.58" fill="#333"/>
<path d="M579.30,73.30L579.30,71.85M579.30,73.30L580.68,72.85M579.30,73.30L580.15,74.47M579.30,73.30L578.45,74.47M579.30,73.30L577.92,72.85" stroke="#333" stroke-width="0.64" stroke-linecap="round"/><circle cx="579.30" cy="73.30" r="0.58" fill="#333"/>
<path d="M577.20,86.40L577.20,84.95M577.20,86.40L578.58,85.95M577.20,86.40L578.05,87.57M577.20,86.40L576.35,87.57M577.20,86.40L575.82,85.95" stroke="#333" stroke-width="0.64" stroke-linecap="round"/><circle cx="577.20" cy="86.40" r="0.58" fill="#333"/><path d="M581.40,86.40L581.40,84.95M581.40,86.40L582.78,85.95M581.40,86.40L582.25,87.57M581.40,86.40L580.55,87.57M581.40,86.40L580.02,85.95" stroke="#333" stroke-width="0.64" stroke-linecap="round"/><circle cx="581.40" cy="86.40" r="0.58" fill="#333"/>
<path d="M573.00,125.10L573.00,123.65M573.00,125.10L574.38,124.65M573.00,125.10L573.85,126.27M573.00,125.10L572.15,126.27M573.00,125.10L571.62,124.65" stroke="#333" stroke-width="0.64" stroke-linecap="round"/><circle cx="573.00" cy="125.10" r="0.58" fill="#333"/><path d="M577.20,125.10L577.20,123.65M577.20,125.10L578.58,124.65M577.20,125.10L578.05,126.27M577.20,125.10L576.35,126.27M577.20,125.10L575.82,124.65" stroke="#333" stroke-width="0.64" stroke-linecap="round"/><circle cx="577.20" cy="125.10" r="0.58" fill="#333"/><path d="M581.40,125.10L581.40,123.65M581.40,125.10L582.78,124.65M581.40,125.10L582.25,126.27M581.40,125.10L580.55,126.27M581.40,125.10L580.02,124.65" stroke="#333" stroke-width="0.64" stroke-linecap="round"/><circle cx="581.40" cy="125.10" r="0.58" fill="#333"/><path d="M585.60,125.10L585.60,123.65M585.60,125.10L586.98,124.65M585.60,125.10L586.45,126.27M585.60,125.10L584.75,126.27M585.60,125.10L584.22,124.65" stroke="#333" stroke-width="0.64" stroke-linecap="round"/><circle cx="585.60" cy="125.10" r="0.58" fill="#333"/>
<path d="M667.80,131.20L667.80,129.75M667.80,131.20L669.18,130.75M667.80,131.20L668.65,132.37M667.80,131.20L666.95,132.37M667.80,131.20L666.42,130.75" stroke="#333" stroke-width="0.64" stroke-linecap="round"/><circle cx="667.80" cy="131.20" r="0.58" fill="#333"/><path d="M672.00,131.20L672.00,129.75M672.00,131.20L673.38,130.75M672.00,131.20L672.85,132.37M672.00,131.20L671.15,132.37M672.00,131.20L670.62,130.75" stroke="#333" stroke-width="0.64" stroke-linecap="round"/><circle cx="672.00" cy="131.20" r="0.58" fill="#333"/><path d="M676.20,131.20L676.20,129.75M676.20,131.20L677.58,130.75M676.20,131.20L677.05,132.37M676.20,131.20L675.35,132.37M676.20,131.20L674.82,130.75" stroke="#333" stroke-width="0.64" stroke-linecap="round"/><circle cx="676.20" cy="131.20" r="0.58" fill="#333"/>
<path d="M667.80,148.00L667.80,146.55M667.80,148.00L669.18,147.55M667.80,148.00L668.65,149.17M667.80,148.00L666.95,149.17M667.80,148.00L666.42,147.55" stroke="#333" stroke-width="0.64" stroke-linecap="round"/><circle cx="667.80" cy="148.00" r="0.58" fill="#333"/><path d="M672.00,148.00L672.00,146.55M672.00,148.00L673.38,147.55M672.00,148.00L672.85,149.17M672.00,148.00L671.15,149.17M672.00,148.00L670.62,147.55" stroke="#333" stroke-width="0.64" stroke-linecap="round"/><circle cx="672.00" cy="148.00" r="0.58" fill="#333"/><path d="M676.20,148.00L676.20,146.55M676.20,148.00L677.58,147.55M676.20,148.00L677.05,149.17M676.20,148.00L675.35,149.17M676.20,148.00L674.82,147.55" stroke="#333" stroke-width="0.64" stroke-linecap="round"/><circle cx="676.20" cy="148.00" r="0.58" fill="#333"/>
<text transform="translate(467.0,143.85) rotate(-90)" font-family="Liberation Sans, sans-serif" font-size="11.4" font-weight="bold" text-anchor="middle" fill="#1a1a1a">Survival [%]</text>
<line x1="503.2" y1="168.4" x2="518.2" y2="168.4" stroke="#358b1b" stroke-width="1.5"/>
<circle cx="510.8" cy="168.4" r="3.136" fill="#358b1b"/>
<text x="525.2" y="171.9" font-family="Liberation Sans, sans-serif" font-size="11.25" fill="#333333">Control</text>
<line x1="503.2" y1="187.6" x2="506.4" y2="187.6" stroke="#358b1b" stroke-width="1.5"/>
<line x1="516.7" y1="187.6" x2="518.0" y2="187.6" stroke="#358b1b" stroke-width="1.5"/>
<rect x="507.88800000000003" y="184.688" width="5.824000000000001" height="5.824000000000001" fill="#358b1b"/>
<text x="525.2" y="191.1" font-family="Liberation Sans, sans-serif" font-size="11.25" fill="#333333">Berz. 50nM (33.3%*IC20)</text>
<line x1="503.2" y1="206.1" x2="504.3" y2="206.1" stroke="#4f9a38" stroke-width="1.5"/>
<line x1="506.2" y1="206.1" x2="507.4" y2="206.1" stroke="#4f9a38" stroke-width="1.5"/>
<line x1="515.2" y1="206.1" x2="516.4" y2="206.1" stroke="#4f9a38" stroke-width="1.5"/>
<polygon points="507.776,203.412 513.824,203.412 510.8,208.78799999999998" fill="#4f9a38"/>
<text x="525.2" y="209.6" font-family="Liberation Sans, sans-serif" font-size="11.25" fill="#333333">Berz. 100nM (66.7%*IC20)</text>
<line x1="503.2" y1="224.7" x2="506.4" y2="224.7" stroke="#4f9a38" stroke-width="1.5"/>
<line x1="514.2" y1="224.7" x2="518.0" y2="224.7" stroke="#4f9a38" stroke-width="1.5"/>
<polygon points="507.776,227.38799999999998 513.824,227.38799999999998 510.8,222.012" fill="#4f9a38"/>
<text x="525.2" y="228.2" font-family="Liberation Sans, sans-serif" font-size="11.25" fill="#333333">Berz. 150nM (100%*IC20)</text>
<text x="2.5" y="270.1" font-family="Liberation Sans, sans-serif" font-size="13.5" fill="#1a1a1a">D.</text>
<text x="32.9" y="270.1" font-family="Liberation Sans, sans-serif" font-size="14" textLength="152.2" lengthAdjust="spacingAndGlyphs" fill="#1a1a1a">IR dose to reach 50% SF</text>
<line x1="25.2" y1="408.5" x2="28.7" y2="408.5" stroke="#1a1a1a" stroke-width="1.3"/>
<text x="23.7" y="412.5" font-family="Liberation Sans, sans-serif" font-size="10" font-weight="bold" text-anchor="end" fill="#1a1a1a">0</text>
<line x1="25.2" y1="382.08" x2="28.7" y2="382.08" stroke="#1a1a1a" stroke-width="1.3"/>
<text x="23.7" y="386.08" font-family="Liberation Sans, sans-serif" font-size="10" font-weight="bold" text-anchor="end" fill="#1a1a1a">1</text>
<line x1="25.2" y1="355.65999999999997" x2="28.7" y2="355.65999999999997" stroke="#1a1a1a" stroke-width="1.3"/>
<text x="23.7" y="359.65999999999997" font-family="Liberation Sans, sans-serif" font-size="10" font-weight="bold" text-anchor="end" fill="#1a1a1a">2</text>
<line x1="25.2" y1="329.24" x2="28.7" y2="329.24" stroke="#1a1a1a" stroke-width="1.3"/>
<text x="23.7" y="333.24" font-family="Liberation Sans, sans-serif" font-size="10" font-weight="bold" text-anchor="end" fill="#1a1a1a">3</text>
<line x1="25.2" y1="302.82" x2="28.7" y2="302.82" stroke="#1a1a1a" stroke-width="1.3"/>
<text x="23.7" y="306.82" font-family="Liberation Sans, sans-serif" font-size="10" font-weight="bold" text-anchor="end" fill="#1a1a1a">4</text>
<line x1="25.2" y1="276.4" x2="28.7" y2="276.4" stroke="#1a1a1a" stroke-width="1.3"/>
<text x="23.7" y="280.4" font-family="Liberation Sans, sans-serif" font-size="10" font-weight="bold" text-anchor="end" fill="#1a1a1a">5</text>
<text transform="translate(10.2,342.4) rotate(-90)" font-family="Liberation Sans, sans-serif" font-size="10.5" font-weight="bold" text-anchor="middle" fill="#1a1a1a">IR in Gy</text>
<line x1="58.6" y1="321.7" x2="58.6" y2="335.2" stroke="#ff1e10" stroke-width="1.2"/>
<line x1="51.1" y1="321.7" x2="66.1" y2="321.7" stroke="#ff1e10" stroke-width="1.2"/>
<rect x="43.6" y="335.2" width="30" height="73.30000000000001" fill="#ff1e10"/>
<line x1="58.6" y1="408.5" x2="58.6" y2="412.5" stroke="#1a1a1a" stroke-width="1.3"/>
<defs><pattern id="chkr1" x="91.4" y="366.3" width="5.1" height="5.5" patternUnits="userSpaceOnUse"><rect width="5.1" height="5.5" fill="#ff1e10"/><rect x="0" y="0" width="2.55" height="2.75" fill="#f2f8f8"/><rect x="2.55" y="2.75" width="2.55" height="2.75" fill="#f2f8f8"/></pattern></defs>
<line x1="104.4" y1="353.8" x2="104.4" y2="364.3" stroke="#ff1e10" stroke-width="1.2"/>
<line x1="96.9" y1="353.8" x2="111.9" y2="353.8" stroke="#ff1e10" stroke-width="1.2"/>
<rect x="90.4" y="365.3" width="28" height="43.19999999999999" fill="url(#chkr1)"/>
<path d="M90.4,408.5 V365.3 H118.4 V408.5" fill="none" stroke="#ff1e10" stroke-width="2"/>
<line x1="104.4" y1="408.5" x2="104.4" y2="412.5" stroke="#1a1a1a" stroke-width="1.3"/>
<defs><pattern id="strr2" x="139.20000000000002" y="0" width="4.05" height="10" patternUnits="userSpaceOnUse"><rect width="4.05" height="10" fill="#f4f4f4"/><rect x="0" y="0" width="1" height="10" fill="#ff1e10" opacity="0.85"/></pattern></defs>
<line x1="150.4" y1="380.3" x2="150.4" y2="385" stroke="#ff1e10" stroke-width="1.2"/>
<line x1="142.9" y1="380.3" x2="157.9" y2="380.3" stroke="#ff1e10" stroke-width="1.2"/>
<rect x="136.4" y="386" width="28" height="22.5" fill="url(#strr2)"/>
<path d="M136.4,408.5 V386 H164.4 V408.5" fill="none" stroke="#ff1e10" stroke-width="2"/>
<line x1="150.4" y1="408.5" x2="150.4" y2="412.5" stroke="#1a1a1a" stroke-width="1.3"/>
<line x1="196" y1="395.2" x2="196" y2="396.4" stroke="#ff1e10" stroke-width="1.2"/>
<line x1="188.5" y1="395.2" x2="203.5" y2="395.2" stroke="#ff1e10" stroke-width="1.2"/>
<rect x="182.0" y="397.4" width="28" height="11.100000000000023" fill="#efefef"/>
<path d="M182.0,408.5 V397.4 H210.0 V408.5" fill="none" stroke="#ff1e10" stroke-width="2"/>
<line x1="196" y1="408.5" x2="196" y2="412.5" stroke="#1a1a1a" stroke-width="1.3"/>
<line x1="28.7" y1="408.5" x2="227" y2="408.5" stroke="#1a1a1a" stroke-width="1.5"/>
<line x1="28.7" y1="276.4" x2="28.7" y2="409.2" stroke="#1a1a1a" stroke-width="1.5"/>
<text transform="translate(62.6,421.5) rotate(-45)" font-family="Liberation Sans, sans-serif" font-size="10" font-weight="bold" text-anchor="end" fill="#1a1a1a">Control</text>
<g transform="translate(107.4,420.5) rotate(-45)"><text x="-12" y="0.2" font-family="Liberation Sans, sans-serif" font-size="10.1" font-weight="bold" text-anchor="middle" fill="#1a1a1a">80nM</text><text x="-8.8" y="9.3" font-family="Liberation Sans, sans-serif" font-size="9.8" text-anchor="middle" fill="#333333">33%*IC20</text></g>
<g transform="translate(153.4,420.5) rotate(-45)"><text x="-12" y="0.2" font-family="Liberation Sans, sans-serif" font-size="10.1" font-weight="bold" text-anchor="middle" fill="#1a1a1a">160nM</text><text x="-8.8" y="9.3" font-family="Liberation Sans, sans-serif" font-size="9.8" text-anchor="middle" fill="#333333">66%*IC20</text></g>
<g transform="translate(199,420.5) rotate(-45)"><text x="-12" y="0.2" font-family="Liberation Sans, sans-serif" font-size="10.1" font-weight="bold" text-anchor="middle" fill="#1a1a1a">240nM</text><text x="-8.8" y="9.3" font-family="Liberation Sans, sans-serif" font-size="9.8" text-anchor="middle" fill="#333333">100%*IC20</text></g>
<line x1="84.2" y1="457.7" x2="207.3" y2="457.7" stroke="#1a1a1a" stroke-width="1.5"/>
<text x="85" y="471.8" font-family="Liberation Sans, sans-serif" font-size="13.5" font-weight="bold" fill="#1a1a1a">Berzosertib in nM</text>
<text x="230.6" y="269.3" font-family="Liberation Sans, sans-serif" font-size="13.5" fill="#1a1a1a">E.</text>
<text x="262.1" y="269.3" font-family="Liberation Sans, sans-serif" font-size="14" textLength="152.2" lengthAdjust="spacingAndGlyphs" fill="#1a1a1a">IR dose to reach 50% SF</text>
<line x1="255.8" y1="409.45" x2="259.3" y2="409.45" stroke="#1a1a1a" stroke-width="1.3"/>
<text x="254.3" y="413.45" font-family="Liberation Sans, sans-serif" font-size="10" font-weight="bold" text-anchor="end" fill="#1a1a1a">0</text>
<line x1="255.8" y1="383.06" x2="259.3" y2="383.06" stroke="#1a1a1a" stroke-width="1.3"/>
<text x="254.3" y="387.06" font-family="Liberation Sans, sans-serif" font-size="10" font-weight="bold" text-anchor="end" fill="#1a1a1a">1</text>
<line x1="255.8" y1="356.67" x2="259.3" y2="356.67" stroke="#1a1a1a" stroke-width="1.3"/>
<text x="254.3" y="360.67" font-family="Liberation Sans, sans-serif" font-size="10" font-weight="bold" text-anchor="end" fill="#1a1a1a">2</text>
<line x1="255.8" y1="330.28" x2="259.3" y2="330.28" stroke="#1a1a1a" stroke-width="1.3"/>
<text x="254.3" y="334.28" font-family="Liberation Sans, sans-serif" font-size="10" font-weight="bold" text-anchor="end" fill="#1a1a1a">3</text>
<line x1="255.8" y1="303.89" x2="259.3" y2="303.89" stroke="#1a1a1a" stroke-width="1.3"/>
<text x="254.3" y="307.89" font-family="Liberation Sans, sans-serif" font-size="10" font-weight="bold" text-anchor="end" fill="#1a1a1a">4</text>
<line x1="255.8" y1="277.5" x2="259.3" y2="277.5" stroke="#1a1a1a" stroke-width="1.3"/>
<text x="254.3" y="281.5" font-family="Liberation Sans, sans-serif" font-size="10" font-weight="bold" text-anchor="end" fill="#1a1a1a">5</text>
<text transform="translate(240.8,342.4) rotate(-90)" font-family="Liberation Sans, sans-serif" font-size="10.5" font-weight="bold" text-anchor="middle" fill="#1a1a1a">IR in Gy</text>
<line x1="289.6" y1="330.2" x2="289.6" y2="334.4" stroke="#1a00ff" stroke-width="1.2"/>
<line x1="282.1" y1="330.2" x2="297.1" y2="330.2" stroke="#1a00ff" stroke-width="1.2"/>
<rect x="274.6" y="334.4" width="30" height="75.05000000000001" fill="#1a00ff"/>
<line x1="289.6" y1="409.45" x2="289.6" y2="413.45" stroke="#1a1a1a" stroke-width="1.3"/>
<defs><pattern id="chkb1" x="322.3" y="361.9" width="5.1" height="5.5" patternUnits="userSpaceOnUse"><rect width="5.1" height="5.5" fill="#1a00ff"/><rect x="0" y="0" width="2.55" height="2.75" fill="#f2f8f8"/><rect x="2.55" y="2.75" width="2.55" height="2.75" fill="#f2f8f8"/></pattern></defs>
<line x1="335.3" y1="359" x2="335.3" y2="359.9" stroke="#1a00ff" stroke-width="1.2"/>
<line x1="327.8" y1="359" x2="342.8" y2="359" stroke="#1a00ff" stroke-width="1.2"/>
<rect x="321.3" y="360.9" width="28" height="48.55000000000001" fill="url(#chkb1)"/>
<path d="M321.3,409.45 V360.9 H349.3 V409.45" fill="none" stroke="#1a00ff" stroke-width="2"/>
<line x1="335.3" y1="409.45" x2="335.3" y2="413.45" stroke="#1a1a1a" stroke-width="1.3"/>
<defs><pattern id="strb2" x="369.7" y="0" width="4.05" height="10" patternUnits="userSpaceOnUse"><rect width="4.05" height="10" fill="#f4f4f4"/><rect x="0" y="0" width="1" height="10" fill="#1a00ff" opacity="0.85"/></pattern></defs>
<line x1="380.9" y1="388.9" x2="380.9" y2="392.4" stroke="#1a00ff" stroke-width="1.2"/>
<line x1="373.4" y1="388.9" x2="388.4" y2="388.9" stroke="#1a00ff" stroke-width="1.2"/>
<rect x="366.9" y="393.4" width="28" height="16.05000000000001" fill="url(#strb2)"/>
<path d="M366.9,409.45 V393.4 H394.9 V409.45" fill="none" stroke="#1a00ff" stroke-width="2"/>
<line x1="380.9" y1="409.45" x2="380.9" y2="413.45" stroke="#1a1a1a" stroke-width="1.3"/>
<line x1="426.6" y1="385.4" x2="426.6" y2="386.6" stroke="#1a00ff" stroke-width="1.2"/>
<line x1="419.1" y1="385.4" x2="434.1" y2="385.4" stroke="#1a00ff" stroke-width="1.2"/>
<rect x="412.6" y="387.6" width="28" height="21.849999999999966" fill="#efefef"/>
<path d="M412.6,409.45 V387.6 H440.6 V409.45" fill="none" stroke="#1a00ff" stroke-width="2"/>
<line x1="426.6" y1="409.45" x2="426.6" y2="413.45" stroke="#1a1a1a" stroke-width="1.3"/>
<line x1="259.3" y1="409.45" x2="457.2" y2="409.45" stroke="#1a1a1a" stroke-width="1.5"/>
<line x1="259.3" y1="277.5" x2="259.3" y2="410.15" stroke="#1a1a1a" stroke-width="1.5"/>
<text transform="translate(293.6,422.45) rotate(-45)" font-family="Liberation Sans, sans-serif" font-size="10" font-weight="bold" text-anchor="end" fill="#1a1a1a">Control</text>
<g transform="translate(338.3,421.45) rotate(-45)"><text x="-12" y="0.2" font-family="Liberation Sans, sans-serif" font-size="10.1" font-weight="bold" text-anchor="middle" fill="#1a1a1a">112nM</text><text x="-8.8" y="9.3" font-family="Liberation Sans, sans-serif" font-size="9.8" text-anchor="middle" fill="#333333">33%*IC20</text></g>
<g transform="translate(383.9,421.45) rotate(-45)"><text x="-12" y="0.2" font-family="Liberation Sans, sans-serif" font-size="10.1" font-weight="bold" text-anchor="middle" fill="#1a1a1a">225nM</text><text x="-8.8" y="9.3" font-family="Liberation Sans, sans-serif" font-size="9.8" text-anchor="middle" fill="#333333">66%*IC20</text></g>
<g transform="translate(429.6,421.45) rotate(-45)"><text x="-12" y="0.2" font-family="Liberation Sans, sans-serif" font-size="10.1" font-weight="bold" text-anchor="middle" fill="#1a1a1a">337nM</text><text x="-8.8" y="9.3" font-family="Liberation Sans, sans-serif" font-size="9.8" text-anchor="middle" fill="#333333">100%*IC20</text></g>
<line x1="310.7" y1="457.7" x2="434" y2="457.7" stroke="#1a1a1a" stroke-width="1.5"/>
<text x="312.9" y="471.8" font-family="Liberation Sans, sans-serif" font-size="13.5" font-weight="bold" fill="#1a1a1a">Berzosertib in nM</text>
<text x="456.6" y="269.0" font-family="Liberation Sans, sans-serif" font-size="13.5" fill="#1a1a1a">F.</text>
<text x="490.6" y="269.0" font-family="Liberation Sans, sans-serif" font-size="14" textLength="152.2" lengthAdjust="spacingAndGlyphs" fill="#1a1a1a">IR dose to reach 50% SF</text>
<line x1="481.5" y1="409.2" x2="485" y2="409.2" stroke="#1a1a1a" stroke-width="1.3"/>
<text x="480" y="413.2" font-family="Liberation Sans, sans-serif" font-size="10" font-weight="bold" text-anchor="end" fill="#1a1a1a">0</text>
<line x1="481.5" y1="382.68" x2="485" y2="382.68" stroke="#1a1a1a" stroke-width="1.3"/>
<text x="480" y="386.68" font-family="Liberation Sans, sans-serif" font-size="10" font-weight="bold" text-anchor="end" fill="#1a1a1a">1</text>
<line x1="481.5" y1="356.16" x2="485" y2="356.16" stroke="#1a1a1a" stroke-width="1.3"/>
<text x="480" y="360.16" font-family="Liberation Sans, sans-serif" font-size="10" font-weight="bold" text-anchor="end" fill="#1a1a1a">2</text>
<line x1="481.5" y1="329.64" x2="485" y2="329.64" stroke="#1a1a1a" stroke-width="1.3"/>
<text x="480" y="333.64" font-family="Liberation Sans, sans-serif" font-size="10" font-weight="bold" text-anchor="end" fill="#1a1a1a">3</text>
<line x1="481.5" y1="303.12" x2="485" y2="303.12" stroke="#1a1a1a" stroke-width="1.3"/>
<text x="480" y="307.12" font-family="Liberation Sans, sans-serif" font-size="10" font-weight="bold" text-anchor="end" fill="#1a1a1a">4</text>
<line x1="481.5" y1="276.6" x2="485" y2="276.6" stroke="#1a1a1a" stroke-width="1.3"/>
<text x="480" y="280.6" font-family="Liberation Sans, sans-serif" font-size="10" font-weight="bold" text-anchor="end" fill="#1a1a1a">5</text>
<text transform="translate(466.5,342.4) rotate(-90)" font-family="Liberation Sans, sans-serif" font-size="10.5" font-weight="bold" text-anchor="middle" fill="#1a1a1a">IR in Gy</text>
<line x1="515.2" y1="306.6" x2="515.2" y2="319.2" stroke="#358b1b" stroke-width="1.2"/>
<line x1="507.70000000000005" y1="306.6" x2="522.7" y2="306.6" stroke="#358b1b" stroke-width="1.2"/>
<rect x="500.20000000000005" y="319.2" width="30" height="90.0" fill="#358b1b"/>
<line x1="515.2" y1="409.2" x2="515.2" y2="413.2" stroke="#1a1a1a" stroke-width="1.3"/>
<defs><pattern id="chkg1" x="548.0" y="356.7" width="5.1" height="5.5" patternUnits="userSpaceOnUse"><rect width="5.1" height="5.5" fill="#358b1b"/><rect x="0" y="0" width="2.55" height="2.75" fill="#f2f8f8"/><rect x="2.55" y="2.75" width="2.55" height="2.75" fill="#f2f8f8"/></pattern></defs>
<line x1="561" y1="328.1" x2="561" y2="354.7" stroke="#358b1b" stroke-width="1.2"/>
<line x1="553.5" y1="328.1" x2="568.5" y2="328.1" stroke="#358b1b" stroke-width="1.2"/>
<rect x="547.0" y="355.7" width="28" height="53.5" fill="url(#chkg1)"/>
<path d="M547.0,409.2 V355.7 H575.0 V409.2" fill="none" stroke="#358b1b" stroke-width="2"/>
<line x1="561" y1="409.2" x2="561" y2="413.2" stroke="#1a1a1a" stroke-width="1.3"/>
<defs><pattern id="strg2" x="595.6999999999999" y="0" width="4.05" height="10" patternUnits="userSpaceOnUse"><rect width="4.05" height="10" fill="#f4f4f4"/><rect x="0" y="0" width="1" height="10" fill="#358b1b" opacity="0.85"/></pattern></defs>
<line x1="606.9" y1="377.7" x2="606.9" y2="382.4" stroke="#358b1b" stroke-width="1.2"/>
<line x1="599.4" y1="377.7" x2="614.4" y2="377.7" stroke="#358b1b" stroke-width="1.2"/>
<rect x="592.9" y="383.4" width="28" height="25.80000000000001" fill="url(#strg2)"/>
<path d="M592.9,409.2 V383.4 H620.9 V409.2" fill="none" stroke="#358b1b" stroke-width="2"/>
<line x1="606.9" y1="409.2" x2="606.9" y2="413.2" stroke="#1a1a1a" stroke-width="1.3"/>
<line x1="652.4" y1="396.5" x2="652.4" y2="397.5" stroke="#358b1b" stroke-width="1.2"/>
<line x1="644.9" y1="396.5" x2="659.9" y2="396.5" stroke="#358b1b" stroke-width="1.2"/>
<rect x="638.4" y="398.5" width="28" height="10.699999999999989" fill="#efefef"/>
<path d="M638.4,409.2 V398.5 H666.4 V409.2" fill="none" stroke="#358b1b" stroke-width="2"/>
<line x1="652.4" y1="409.2" x2="652.4" y2="413.2" stroke="#1a1a1a" stroke-width="1.3"/>
<line x1="485" y1="409.2" x2="683.3" y2="409.2" stroke="#1a1a1a" stroke-width="1.5"/>
<line x1="485" y1="276.6" x2="485" y2="409.9" stroke="#1a1a1a" stroke-width="1.5"/>
<text transform="translate(519.2,422.2) rotate(-45)" font-family="Liberation Sans, sans-serif" font-size="10" font-weight="bold" text-anchor="end" fill="#1a1a1a">Control</text>
<g transform="translate(564,421.2) rotate(-45)"><text x="-12" y="0.2" font-family="Liberation Sans, sans-serif" font-size="10.1" font-weight="bold" text-anchor="middle" fill="#1a1a1a">50nM</text><text x="-8.8" y="9.3" font-family="Liberation Sans, sans-serif" font-size="9.8" text-anchor="middle" fill="#333333">33%*IC20</text></g>
<g transform="translate(609.9,421.2) rotate(-45)"><text x="-12" y="0.2" font-family="Liberation Sans, sans-serif" font-size="10.1" font-weight="bold" text-anchor="middle" fill="#1a1a1a">100nM</text><text x="-8.8" y="9.3" font-family="Liberation Sans, sans-serif" font-size="9.8" text-anchor="middle" fill="#333333">66%*IC20</text></g>
<g transform="translate(655.4,421.2) rotate(-45)"><text x="-12" y="0.2" font-family="Liberation Sans, sans-serif" font-size="10.1" font-weight="bold" text-anchor="middle" fill="#1a1a1a">150nM</text><text x="-8.8" y="9.3" font-family="Liberation Sans, sans-serif" font-size="9.8" text-anchor="middle" fill="#333333">100%*IC20</text></g>
<line x1="548.6" y1="457.7" x2="672.9" y2="457.7" stroke="#1a1a1a" stroke-width="1.5"/>
<text x="550.2" y="471.8" font-family="Liberation Sans, sans-serif" font-size="13.5" font-weight="bold" fill="#1a1a1a">Berzosertib in nM</text>
<path d="M101.10,344.20L101.10,341.75M101.10,344.20L103.43,343.44M101.10,344.20L102.54,346.18M101.10,344.20L99.66,346.18M101.10,344.20L98.77,343.44" stroke="#222" stroke-width="1.08" stroke-linecap="round"/><circle cx="101.10" cy="344.20" r="0.98" fill="#222"/><path d="M107.70,344.20L107.70,341.75M107.70,344.20L110.03,343.44M107.70,344.20L109.14,346.18M107.70,344.20L106.26,346.18M107.70,344.20L105.37,343.44" stroke="#222" stroke-width="1.08" stroke-linecap="round"/><circle cx="107.70" cy="344.20" r="0.98" fill="#222"/>
<path d="M143.80,371.40L143.80,368.95M143.80,371.40L146.13,370.64M143.80,371.40L145.24,373.38M143.80,371.40L142.36,373.38M143.80,371.40L141.47,370.64" stroke="#222" stroke-width="1.08" stroke-linecap="round"/><circle cx="143.80" cy="371.40" r="0.98" fill="#222"/><path d="M150.40,371.40L150.40,368.95M150.40,371.40L152.73,370.64M150.40,371.40L151.84,373.38M150.40,371.40L148.96,373.38M150.40,371.40L148.07,370.64" stroke="#222" stroke-width="1.08" stroke-linecap="round"/><circle cx="150.40" cy="371.40" r="0.98" fill="#222"/><path d="M157.00,371.40L157.00,368.95M157.00,371.40L159.33,370.64M157.00,371.40L158.44,373.38M157.00,371.40L155.56,373.38M157.00,371.40L154.67,370.64" stroke="#222" stroke-width="1.08" stroke-linecap="round"/><circle cx="157.00" cy="371.40" r="0.98" fill="#222"/>
<path d="M186.10,386.00L186.10,383.55M186.10,386.00L188.43,385.24M186.10,386.00L187.54,387.98M186.10,386.00L184.66,387.98M186.10,386.00L183.77,385.24" stroke="#222" stroke-width="1.08" stroke-linecap="round"/><circle cx="186.10" cy="386.00" r="0.98" fill="#222"/><path d="M192.70,386.00L192.70,383.55M192.70,386.00L195.03,385.24M192.70,386.00L194.14,387.98M192.70,386.00L191.26,387.98M192.70,386.00L190.37,385.24" stroke="#222" stroke-width="1.08" stroke-linecap="round"/><circle cx="192.70" cy="386.00" r="0.98" fill="#222"/><path d="M199.30,386.00L199.30,383.55M199.30,386.00L201.63,385.24M199.30,386.00L200.74,387.98M199.30,386.00L197.86,387.98M199.30,386.00L196.97,385.24" stroke="#222" stroke-width="1.08" stroke-linecap="round"/><circle cx="199.30" cy="386.00" r="0.98" fill="#222"/><path d="M205.90,386.00L205.90,383.55M205.90,386.00L208.23,385.24M205.90,386.00L207.34,387.98M205.90,386.00L204.46,387.98M205.90,386.00L203.57,385.24" stroke="#222" stroke-width="1.08" stroke-linecap="round"/><circle cx="205.90" cy="386.00" r="0.98" fill="#222"/>
<path d="M325.40,336.70L325.40,334.25M325.40,336.70L327.73,335.94M325.40,336.70L326.84,338.68M325.40,336.70L323.96,338.68M325.40,336.70L323.07,335.94" stroke="#222" stroke-width="1.08" stroke-linecap="round"/><circle cx="325.40" cy="336.70" r="0.98" fill="#222"/><path d="M332.00,336.70L332.00,334.25M332.00,336.70L334.33,335.94M332.00,336.70L333.44,338.68M332.00,336.70L330.56,338.68M332.00,336.70L329.67,335.94" stroke="#222" stroke-width="1.08" stroke-linecap="round"/><circle cx="332.00" cy="336.70" r="0.98" fill="#222"/><path d="M338.60,336.70L338.60,334.25M338.60,336.70L340.93,335.94M338.60,336.70L340.04,338.68M338.60,336.70L337.16,338.68M338.60,336.70L336.27,335.94" stroke="#222" stroke-width="1.08" stroke-linecap="round"/><circle cx="338.60" cy="336.70" r="0.98" fill="#222"/><path d="M345.20,336.70L345.20,334.25M345.20,336.70L347.53,335.94M345.20,336.70L346.64,338.68M345.20,336.70L343.76,338.68M345.20,336.70L342.87,335.94" stroke="#222" stroke-width="1.08" stroke-linecap="round"/><circle cx="345.20" cy="336.70" r="0.98" fill="#222"/>
<path d="M371.00,376.60L371.00,374.15M371.00,376.60L373.33,375.84M371.00,376.60L372.44,378.58M371.00,376.60L369.56,378.58M371.00,376.60L368.67,375.84" stroke="#222" stroke-width="1.08" stroke-linecap="round"/><circle cx="371.00" cy="376.60" r="0.98" fill="#222"/><path d="M377.60,376.60L377.60,374.15M377.60,376.60L379.93,375.84M377.60,376.60L379.04,378.58M377.60,376.60L376.16,378.58M377.60,376.60L375.27,375.84" stroke="#222" stroke-width="1.08" stroke-linecap="round"/><circle cx="377.60" cy="376.60" r="0.98" fill="#222"/><path d="M384.20,376.60L384.20,374.15M384.20,376.60L386.53,375.84M384.20,376.60L385.64,378.58M384.20,376.60L382.76,378.58M384.20,376.60L381.87,375.84" stroke="#222" stroke-width="1.08" stroke-linecap="round"/><circle cx="384.20" cy="376.60" r="0.98" fill="#222"/><path d="M390.80,376.60L390.80,374.15M390.80,376.60L393.13,375.84M390.80,376.60L392.24,378.58M390.80,376.60L389.36,378.58M390.80,376.60L388.47,375.84" stroke="#222" stroke-width="1.08" stroke-linecap="round"/><circle cx="390.80" cy="376.60" r="0.98" fill="#222"/>
<path d="M416.70,370.80L416.70,368.35M416.70,370.80L419.03,370.04M416.70,370.80L418.14,372.78M416.70,370.80L415.26,372.78M416.70,370.80L414.37,370.04" stroke="#222" stroke-width="1.08" stroke-linecap="round"/><circle cx="416.70" cy="370.80" r="0.98" fill="#222"/><path d="M423.30,370.80L423.30,368.35M423.30,370.80L425.63,370.04M423.30,370.80L424.74,372.78M423.30,370.80L421.86,372.78M423.30,370.80L420.97,370.04" stroke="#222" stroke-width="1.08" stroke-linecap="round"/><circle cx="423.30" cy="370.80" r="0.98" fill="#222"/><path d="M429.90,370.80L429.90,368.35M429.90,370.80L432.23,370.04M429.90,370.80L431.34,372.78M429.90,370.80L428.46,372.78M429.90,370.80L427.57,370.04" stroke="#222" stroke-width="1.08" stroke-linecap="round"/><circle cx="429.90" cy="370.80" r="0.98" fill="#222"/><path d="M436.50,370.80L436.50,368.35M436.50,370.80L438.83,370.04M436.50,370.80L437.94,372.78M436.50,370.80L435.06,372.78M436.50,370.80L434.17,370.04" stroke="#222" stroke-width="1.08" stroke-linecap="round"/><circle cx="436.50" cy="370.80" r="0.98" fill="#222"/>
<path d="M561.00,317.40L561.00,314.95M561.00,317.40L563.33,316.64M561.00,317.40L562.44,319.38M561.00,317.40L559.56,319.38M561.00,317.40L558.67,316.64" stroke="#222" stroke-width="1.08" stroke-linecap="round"/><circle cx="561.00" cy="317.40" r="0.98" fill="#222"/>
<path d="M603.60,366.80L603.60,364.35M603.60,366.80L605.93,366.04M603.60,366.80L605.04,368.78M603.60,366.80L602.16,368.78M603.60,366.80L601.27,366.04" stroke="#222" stroke-width="1.08" stroke-linecap="round"/><circle cx="603.60" cy="366.80" r="0.98" fill="#222"/><path d="M610.20,366.80L610.20,364.35M610.20,366.80L612.53,366.04M610.20,366.80L611.64,368.78M610.20,366.80L608.76,368.78M610.20,366.80L607.87,366.04" stroke="#222" stroke-width="1.08" stroke-linecap="round"/><circle cx="610.20" cy="366.80" r="0.98" fill="#222"/>
<path d="M645.80,386.10L645.80,383.65M645.80,386.10L648.13,385.34M645.80,386.10L647.24,388.08M645.80,386.10L644.36,388.08M645.80,386.10L643.47,385.34" stroke="#222" stroke-width="1.08" stroke-linecap="round"/><circle cx="645.80" cy="386.10" r="0.98" fill="#222"/><path d="M652.40,386.10L652.40,383.65M652.40,386.10L654.73,385.34M652.40,386.10L653.84,388.08M652.40,386.10L650.96,388.08M652.40,386.10L650.07,385.34" stroke="#222" stroke-width="1.08" stroke-linecap="round"/><circle cx="652.40" cy="386.10" r="0.98" fill="#222"/><path d="M659.00,386.10L659.00,383.65M659.00,386.10L661.33,385.34M659.00,386.10L660.44,388.08M659.00,386.10L657.56,388.08M659.00,386.10L656.67,385.34" stroke="#222" stroke-width="1.08" stroke-linecap="round"/><circle cx="659.00" cy="386.10" r="0.98" fill="#222"/>
</svg></body></html>
